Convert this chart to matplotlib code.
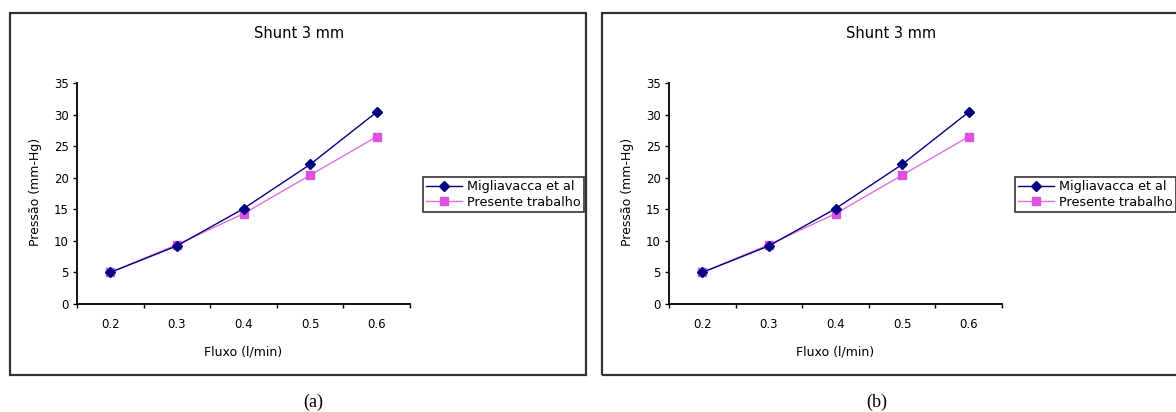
import matplotlib
matplotlib.use('agg')
import matplotlib.pyplot as plt
from matplotlib.patches import Rectangle

# data
fluxo = ['0.2', '0.3', '0.4', '0.5', '0.6']
migliavacca = [5.0, 9.2, 15.1, 22.1, 30.4]
presente = [5.0, 9.4, 14.3, 20.4, 26.5]
yticks = [0, 5, 10, 15, 20, 25, 30, 35]

W, H = 1176, 412
plt.rcParams['font.family'] = ['DejaVu Sans']
fig = plt.figure(figsize=(W / 100, H / 100), dpi=100)


def fx(px):
    return px / W


def fy(py):
    return 1 - py / H


def draw_panel(off, caption, cap_x):
    # outer frame of the panel
    fig.patches.append(Rectangle((fx(10 + off), fy(375)), fx(576), 362 / H,
                                 transform=fig.transFigure, fill=False,
                                 edgecolor='#333333', lw=1.6, clip_on=False))
    ax = fig.add_axes([fx(77 + off), fy(304), fx(333), 221 / H])
    xs = list(range(len(fluxo)))
    ax.plot(xs, migliavacca, color='#000080', marker='D', markersize=5,
            lw=1.0, label='Migliavacca et al', zorder=3)
    ax.plot(xs, presente, color='#e86ce8', marker='s', markersize=6,
            markerfacecolor='#e050e0', markeredgecolor='#e050e0',
            lw=1.0, label='Presente trabalho', zorder=2)
    ax.set_xlim(-0.5, len(fluxo) - 0.5)
    ax.set_ylim(0, 35)
    ax.set_yticks(yticks)
    ax.set_xticks([i - 0.5 for i in range(len(fluxo) + 1)])
    ax.set_xticklabels([])
    ax.set_xticks(xs, minor=True)
    ax.set_xticklabels(fluxo, minor=True)
    ax.tick_params(axis='x', which='minor', length=0, pad=10, labelsize=8.5)
    ax.tick_params(axis='x', which='major', length=3, width=1, direction='out')
    ax.tick_params(axis='y', length=3, width=1, pad=3, labelsize=8.5)
    for s in ['top', 'right']:
        ax.spines[s].set_visible(False)
    for s in ['left', 'bottom']:
        ax.spines[s].set_linewidth(1.3)
    ax.set_xlabel('Fluxo (l/min)', fontsize=9)
    ax.xaxis.set_label_coords(0.5, -0.217)
    ax.xaxis.label.set_va('center')
    ax.set_ylabel('Pressão (mm-Hg)', fontsize=9)
    ax.yaxis.set_label_coords(-0.126, 0.507)
    ax.yaxis.label.set_va('center')
    ax.text(0.667, 1.226, 'Shunt 3 mm', transform=ax.transAxes,
            ha='center', va='center', fontsize=10.5)
    leg = ax.legend(loc='upper left', bbox_to_anchor=(fx(423 + off), fy(177)),
                    bbox_transform=fig.transFigure, fontsize=9.2,
                    frameon=True, fancybox=False, borderpad=0.25,
                    labelspacing=0.2, handlelength=2.8, handletextpad=0.4,
                    borderaxespad=0)
    leg.get_frame().set_edgecolor('black')
    leg.get_frame().set_linewidth(1.2)
    fig.text(fx(cap_x), fy(402), caption, ha='center', va='center',
             fontsize=13, family='Liberation Serif')


draw_panel(0, '(a)', 313)
draw_panel(592, '(b)', 877)

fig.savefig('out.png', dpi=100)
